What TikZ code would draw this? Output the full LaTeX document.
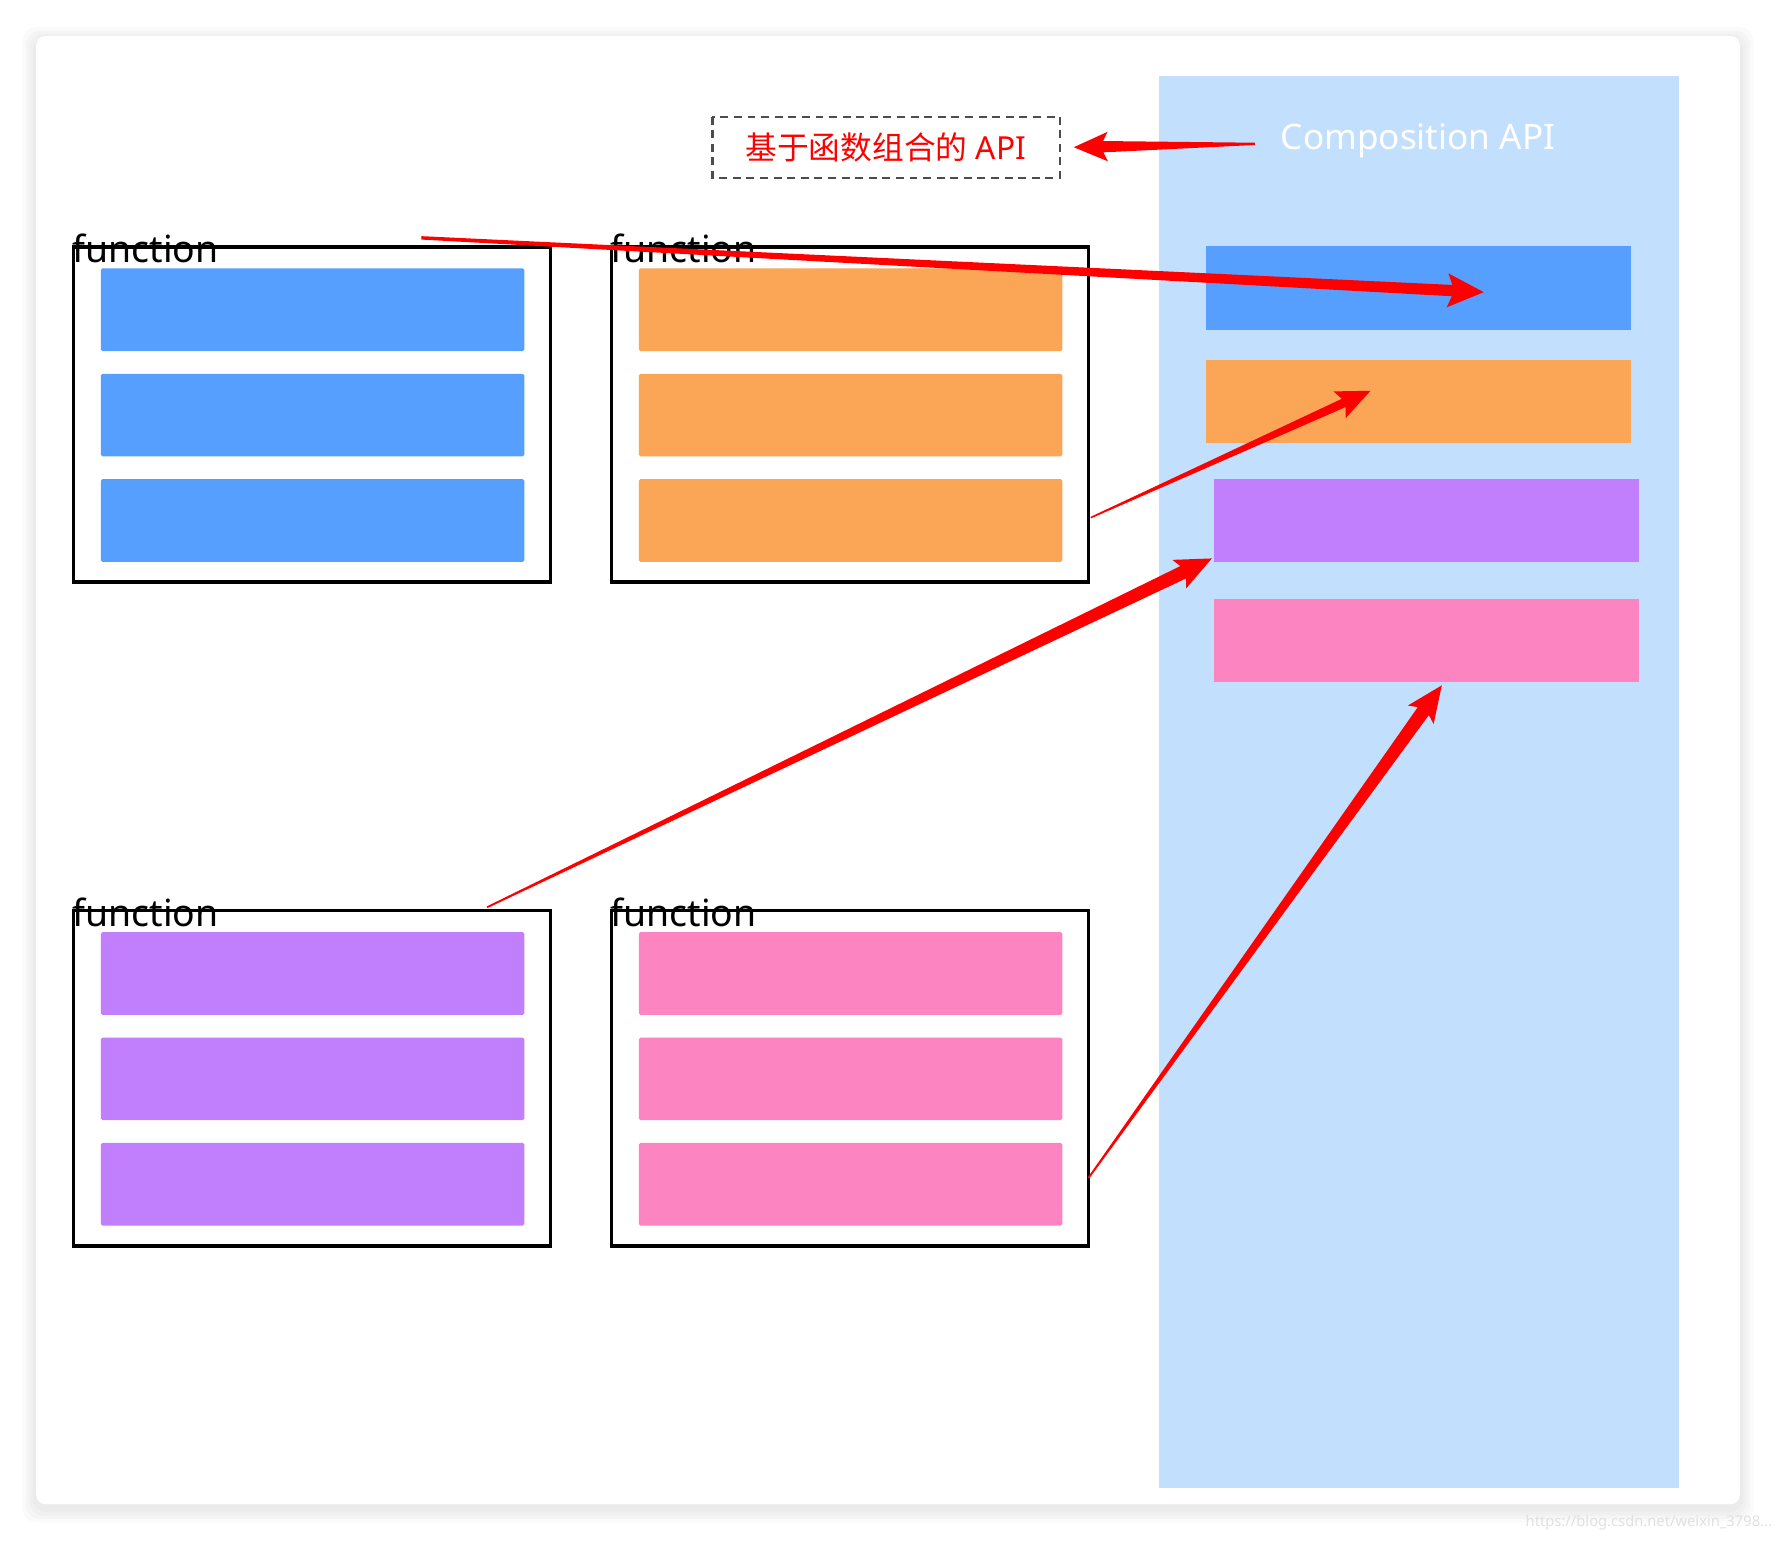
\documentclass[tikz,border=0pt]{standalone}
\usepackage{fontspec}
\setmainfont{Noto Sans}
\newfontfamily\cjk{Noto Sans CJK SC}
\definecolor{pblue}{HTML}{579FFE}
\definecolor{porange}{HTML}{FBA557}
\definecolor{ppurple}{HTML}{C17EFD}
\definecolor{ppink}{HTML}{FC84C0}
\definecolor{panel}{HTML}{C2DFFD}
\newcommand\tarrow[8]{% x1 y1 x2 y2 w0 w1 headlen headhalf
\pgfmathsetmacro\ang{atan2(#4-#2,#3-#1)}\pgfmathsetmacro\len{veclen(#3-#1,#4-#2)}
\fill[red,shift={(#1,#2)},rotate=\ang] (0,-#5)--(\len-#7+4,-#6)--(\len-#7,-#8)--(\len,0)--(\len-#7,#8)--(\len-#7+4,#6)--(0,#5)--cycle;}
\tikzset{frame/.style={draw=black,line width=3},
bar/.style={rounded corners=1.5,inner sep=0}}
\newcommand\funcbox[3]{% x y color
\draw[frame] (#1,-#2) rectangle ++(421,-296);
\foreach \dy in {19,112,205} \fill[#3,bar] (#1+24,-#2-\dy) rectangle ++(374,-73);
\node[anchor=base west,font=\fontsize{33}{38}\selectfont,inner sep=0] at (#1-1,-#2-14) {function};}
\begin{document}
\begin{tikzpicture}[x=1pt,y=1pt]
\useasboundingbox (0,0) rectangle (1568,-1360);
\foreach \i in {12,9,6,3}
  \fill[black,opacity=0.02,rounded corners=12] (32-\i,-32+\i-4) rectangle (1536+\i,-1328-\i-4);
\fill[white,rounded corners=8] (32,-32) rectangle (1536,-1328);
\fill[panel] (1023,-67) rectangle (1482,-1314);
\node[text=white,font=\fontsize{31}{36}\selectfont\bfseries] (comp) at (1252,-124) {Composition API};
\draw[line width=2,draw=black!70,dash pattern=on 7 off 5] (629,-103) rectangle (936,-157);
\node[text=red,font=\fontsize{28}{34}\selectfont] (zh) at (782,-130) {{\cjk 基于函数组合的} API};
\funcbox{65}{218}{pblue}
\funcbox{540}{218}{porange}
\funcbox{65}{804}{ppurple}
\funcbox{540}{804}{ppink}
\fill[pblue] (1065,-217) rectangle (1440,-291);
\fill[porange] (1065,-318) rectangle (1440,-391);
\fill[ppurple] (1072,-423) rectangle (1447,-496);
\fill[ppink] (1072,-529) rectangle (1447,-602);
\tarrow{1108}{-127}{948}{-130}{1}{5}{30}{13}
\tarrow{372}{-210}{1310}{-258}{1.5}{5}{32}{15}
\tarrow{963}{-457}{1210}{-345}{0.7}{4}{30}{13}
\tarrow{430}{-801}{1070}{-493}{0.8}{6}{32}{14}
\tarrow{961}{-1040}{1273}{-605}{0.8}{6}{32}{14}
\node[anchor=east,text=black!12,font=\fontsize{13}{15}\selectfont] (wm) at (1568,-1344) {https://blog.csdn.net/weixin\_3798...};
\end{tikzpicture}
\end{document}
